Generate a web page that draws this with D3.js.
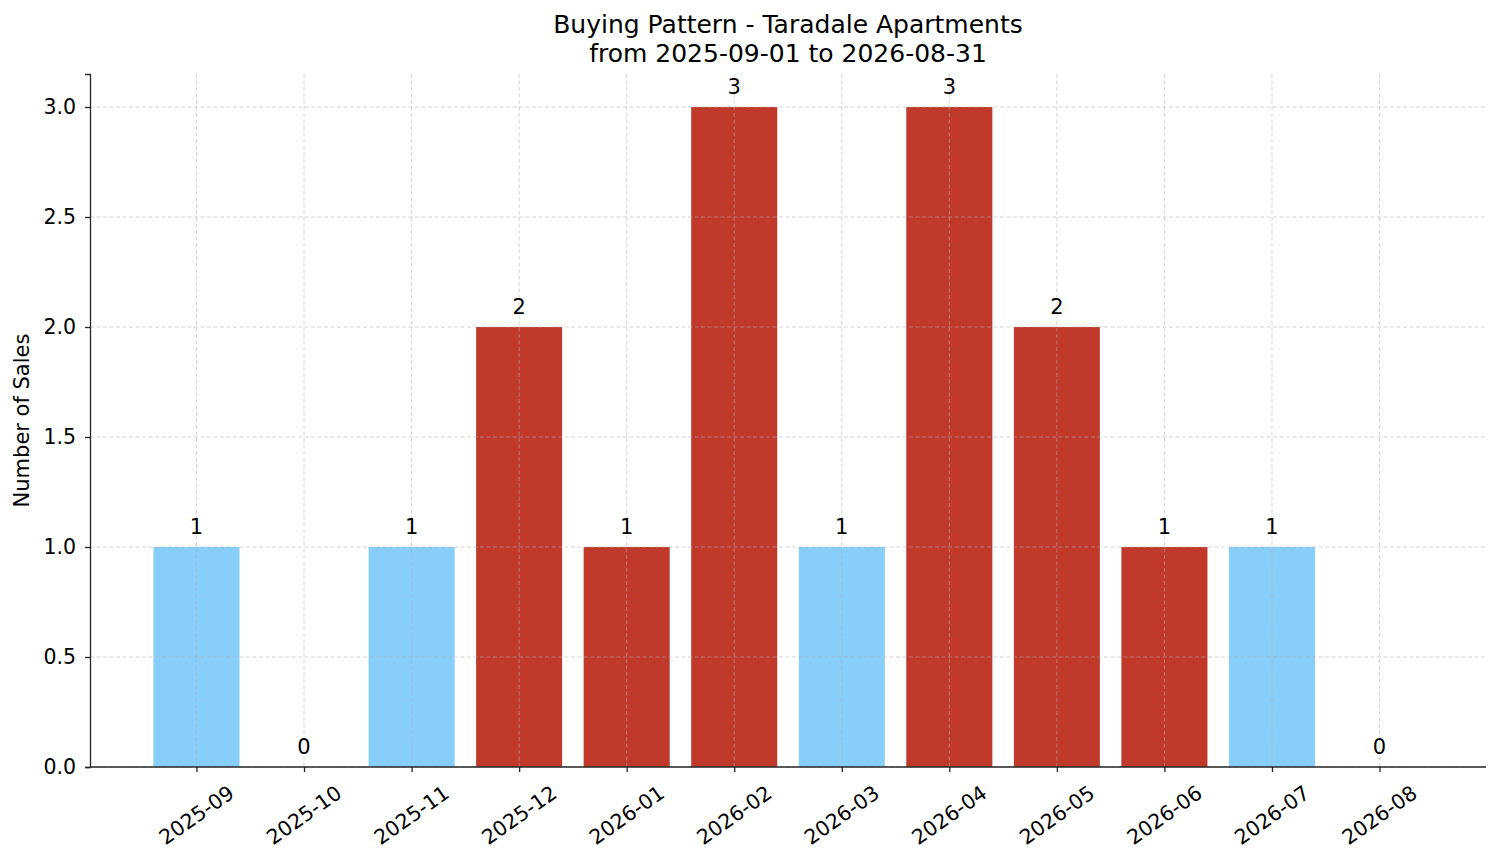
<!DOCTYPE html>
<html lang="en">
<head>
    <meta charset="UTF-8">
    <script src="https://d3js.org/d3.v7.min.js"></script>
    <title>Buying Pattern</title>
    <style>
        body { margin: 0; background: #fff; }
        text { font-family: "DejaVu Sans", sans-serif; fill: #000; }
    </style>
</head>
<body>
    <svg id="chart" width="1501" height="863"></svg>
    <script>
        const months = ["2025-09", "2025-10", "2025-11", "2025-12", "2026-01", "2026-02",
                        "2026-03", "2026-04", "2026-05", "2026-06", "2026-07", "2026-08"];
        const sales = [1, 0, 1, 2, 1, 3, 1, 3, 2, 1, 1, 0];
        // true = red (hot month), false = light blue
        const highlight = [false, false, false, true, true, true, false, true, true, true, false, false];
        const yTicks = [0, 0.5, 1, 1.5, 2, 2.5, 3];

        const svg = d3.select("#chart");
        const margin = { top: 74, right: 15, bottom: 96, left: 90 };
        const width = +svg.attr("width") - margin.left - margin.right;
        const height = +svg.attr("height") - margin.top - margin.bottom;

        // index-based x scale, like matplotlib's categorical bar positions
        const x = d3.scaleLinear()
            .domain([-0.99, months.length - 1 + 0.99])
            .range([0, width]);

        const y = d3.scaleLinear()
            .domain([0, 3.15])
            .range([height, 0]);

        const g = svg.append("g")
            .attr("transform", "translate(" + margin.left + "," + margin.top + ")");

        const barW = x(0.8) - x(0);

        g.selectAll("rect.bar")
            .data(sales)
            .enter().append("rect")
            .attr("class", "bar")
            .attr("x", (d, i) => x(i) - barW / 2)
            .attr("y", d => y(d))
            .attr("width", barW)
            .attr("height", d => height - y(d))
            .attr("fill", (d, i) => highlight[i] ? "#c0392b" : "#87cefa");

        // grid on top of bars, faint dashed
        const grid = g.append("g").attr("class", "grid");
        grid.selectAll("line.h")
            .data(yTicks)
            .enter().append("line")
            .attr("x1", 0).attr("x2", width)
            .attr("y1", d => y(d)).attr("y2", d => y(d))
            .attr("stroke", "#b0b0b0").attr("stroke-opacity", 0.6)
            .attr("stroke-dasharray", "4,2.5").attr("stroke-width", 0.9);
        grid.selectAll("line.v")
            .data(months)
            .enter().append("line")
            .attr("x1", (d, i) => x(i)).attr("x2", (d, i) => x(i))
            .attr("y1", 0).attr("y2", height)
            .attr("stroke", "#b0b0b0").attr("stroke-opacity", 0.6)
            .attr("stroke-dasharray", "4,2.5").attr("stroke-width", 0.9);

        // value labels
        g.selectAll("text.val")
            .data(sales)
            .enter().append("text")
            .attr("class", "val")
            .attr("x", (d, i) => x(i))
            .attr("y", d => y(d) - 13)
            .attr("text-anchor", "middle")
            .style("font-size", "21px")
            .text(d => d);

        // y axis
        const yAxis = g.append("g")
            .call(d3.axisLeft(y).tickValues(yTicks).tickFormat(d3.format(".1f")).tickSize(5).tickPadding(9));
        yAxis.select(".domain").attr("stroke", "#262626").attr("stroke-width", 1.3);
        yAxis.selectAll(".tick line").attr("stroke", "#262626").attr("stroke-width", 1.3);
        yAxis.selectAll(".tick text").style("font-size", "20.5px").style("font-family", "DejaVu Sans");

        // x axis
        const xAxis = g.append("g")
            .attr("transform", "translate(0," + height + ")")
            .call(d3.axisBottom(x).tickValues(d3.range(months.length)).tickSize(5).tickFormat(""));
        xAxis.select(".domain").attr("d", "M0,0H" + width).attr("stroke", "#262626").attr("stroke-width", 1.3);
        xAxis.selectAll(".tick line").attr("stroke", "#262626").attr("stroke-width", 1.3);

        g.selectAll("text.xlab")
            .data(months)
            .enter().append("text")
            .attr("class", "xlab")
            .attr("transform", (d, i) => "translate(" + x(i) + "," + (height + 48) + ") rotate(-35)")
            .attr("text-anchor", "middle")
            .attr("dy", "0.35em")
            .style("font-size", "20.5px")
            .text(d => d);

        // y label
        svg.append("text")
            .attr("transform", "translate(29," + (margin.top + height / 2) + ") rotate(-90)")
            .attr("text-anchor", "middle")
            .style("font-size", "21px")
            .text("Number of Sales");

        // title
        svg.append("text")
            .attr("x", margin.left + width / 2)
            .attr("y", 33)
            .attr("text-anchor", "middle")
            .style("font-size", "25px")
            .text("Buying Pattern - Taradale Apartments");
        svg.append("text")
            .attr("x", margin.left + width / 2)
            .attr("y", 62)
            .attr("text-anchor", "middle")
            .style("font-size", "25px")
            .text("from 2025-09-01 to 2026-08-31");
    </script>
</body>
</html>
